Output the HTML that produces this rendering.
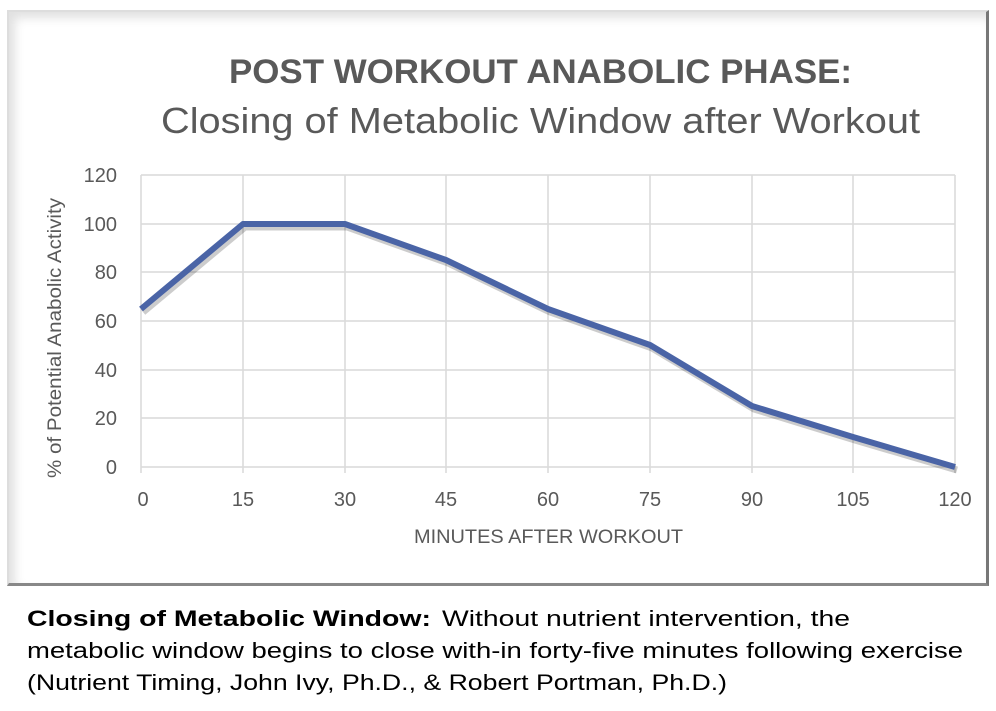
<!DOCTYPE html>
<html><head><style>
body{margin:0;background:#fff;width:996px;height:711px;overflow:hidden;position:relative;font-family:"Liberation Sans",sans-serif}
.frame{position:absolute;left:7px;top:10px;width:977px;height:571px;border:2px solid #ddd;border-right:3px solid #777;border-bottom:3px solid #888;box-shadow:inset 6px 6px 10px rgba(0,0,0,0.12)}
</style></head><body>
<div class="frame"></div>
<svg width="996" height="711" style="position:absolute;left:0;top:0" font-family="Liberation Sans, sans-serif">
<text x="229" y="83" textLength="623" lengthAdjust="spacingAndGlyphs" font-size="34" font-weight="bold" fill="#595959">POST WORKOUT ANABOLIC PHASE:</text>
<text x="161" y="133" textLength="759" lengthAdjust="spacingAndGlyphs" font-size="36" fill="#595959">Closing of Metabolic Window after Workout</text>
<g stroke="#d9d9d9" stroke-width="1.5">
<line x1="141" y1="175" x2="955" y2="175"/><line x1="141" y1="224" x2="955" y2="224"/>
<line x1="141" y1="272" x2="955" y2="272"/><line x1="141" y1="321" x2="955" y2="321"/>
<line x1="141" y1="370" x2="955" y2="370"/><line x1="141" y1="418" x2="955" y2="418"/>
<line x1="141" y1="467" x2="955" y2="467"/>
<line x1="141" y1="175" x2="141" y2="473"/><line x1="243" y1="175" x2="243" y2="473"/>
<line x1="345" y1="175" x2="345" y2="473"/><line x1="446" y1="175" x2="446" y2="473"/>
<line x1="548" y1="175" x2="548" y2="473"/><line x1="650" y1="175" x2="650" y2="473"/>
<line x1="752" y1="175" x2="752" y2="473"/><line x1="853" y1="175" x2="853" y2="473"/>
<line x1="955" y1="175" x2="955" y2="473"/>
</g>
<g font-size="20" fill="#595959" text-anchor="end">
<text x="117" y="182">120</text><text x="117" y="231">100</text><text x="117" y="279">80</text>
<text x="117" y="328">60</text><text x="117" y="377">40</text><text x="117" y="425">20</text><text x="117" y="474">0</text>
</g>
<g font-size="20" fill="#595959" text-anchor="middle">
<text x="143" y="506">0</text><text x="243" y="506">15</text><text x="345" y="506">30</text><text x="446" y="506">45</text>
<text x="548" y="506">60</text><text x="650" y="506">75</text><text x="752" y="506">90</text><text x="853" y="506">105</text><text x="955" y="506">120</text>
</g>
<text x="414" y="543" textLength="269" lengthAdjust="spacingAndGlyphs" font-size="19" fill="#595959">MINUTES AFTER WORKOUT</text>
<text transform="translate(61,478) rotate(-90)" textLength="280" lengthAdjust="spacingAndGlyphs" font-size="19" fill="#595959">% of Potential Anabolic Activity</text>
<polyline points="141,309 243,224 345,224 446,260 548,309 650,345 752,406 853,437 955,467" fill="none" stroke="rgba(0,0,0,0.2)" stroke-width="7" stroke-linejoin="round" transform="translate(2,3)"/>
<polyline points="141,309 243,224 345,224 446,260 548,309 650,345 752,406 853,437 955,467" fill="none" stroke="#4a64a6" stroke-width="6" stroke-linejoin="round"/>
<g font-size="22" fill="#000">
<text x="27" y="626" textLength="404" lengthAdjust="spacingAndGlyphs" font-weight="bold">Closing of Metabolic Window:</text>
<text x="442" y="626" textLength="408" lengthAdjust="spacingAndGlyphs">Without nutrient intervention, the</text>
<text x="27" y="658" textLength="936" lengthAdjust="spacingAndGlyphs">metabolic window begins to close with-in forty-five minutes following exercise</text>
<text x="27" y="690" textLength="700" lengthAdjust="spacingAndGlyphs">(Nutrient Timing, John Ivy, Ph.D., &amp; Robert Portman, Ph.D.)</text>
</g>
</svg>
</body></html>
